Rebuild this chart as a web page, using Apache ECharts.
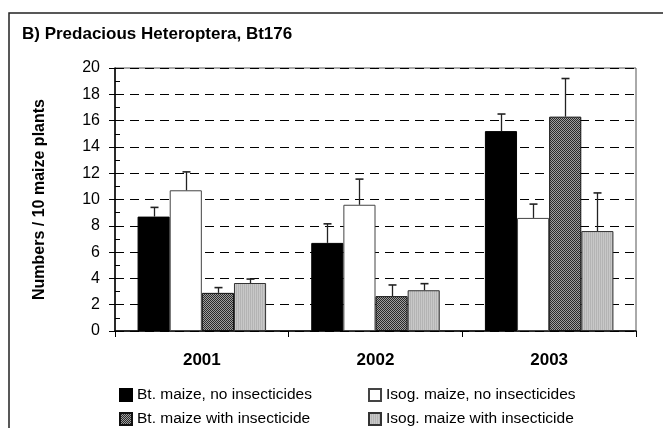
<!DOCTYPE html>
<html>
<head>
<meta charset="utf-8">
<script src="https://cdn.jsdelivr.net/npm/echarts@6/dist/echarts.min.js"></script>
<style>
  html, body { margin: 0; padding: 0; background: #fff; }
</style>
</head>
<body>
<div id="main" style="width: 663px; height: 428px"></div>
<script>
var years = ["2001", "2002", "2003"];
var seriesNames = [
  "Bt. maize, no insecticides",
  "Isog. maize, no insecticides",
  "Bt. maize with insecticide",
  "Isog. maize with insecticide"
];
var btNoIns = [8.7, 6.7, 15.2];
var isogNoIns = [10.7, 9.6, 8.6];
var btIns = [2.9, 2.65, 16.3];
var isogIns = [3.65, 3.1, 7.6];
// upper error (SE) for each bar
var btNoInsErr = [0.7, 1.45, 1.3];
var isogNoInsErr = [1.4, 1.95, 1.05];
var btInsErr = [0.4, 0.85, 2.9];
var isogInsErr = [0.3, 0.5, 2.9];

var font = "Arial, 'Liberation Sans', sans-serif";
var catGap = 0.26;

function pattern(w, h, draw) {
  var c = document.createElement("canvas");
  c.width = w;
  c.height = h;
  draw(c.getContext("2d"));
  return { image: c, repeat: "repeat" };
}
// checkered dark fill
var darkFill = pattern(2, 2, function (g) {
  g.fillStyle = "#a0a0a0";
  g.fillRect(0, 0, 2, 2);
  g.fillStyle = "#2a2a2a";
  g.fillRect(0, 0, 1, 1);
  g.fillRect(1, 1, 1, 1);
});
// fine light gray fill
var grayFill = pattern(2, 1, function (g) {
  g.fillStyle = "#c8c8c8";
  g.fillRect(0, 0, 2, 1);
  g.fillStyle = "#b4b4b4";
  g.fillRect(0, 0, 1, 1);
});

var chartDom = document.getElementById("main");
var myChart = echarts.init(chartDom, null, { renderer: "canvas" });

var values = [btNoIns, isogNoIns, btIns, isogIns];
var errs = [btNoInsErr, isogNoInsErr, btInsErr, isogInsErr];
var fills = ["#000000", "#ffffff", darkFill, grayFill];
var borders = ["#000000", "#444444", "#111111", "#333333"];

var series = [];
values.forEach(function (v, i) {
  series.push({
    name: seriesNames[i],
    type: "bar",
    data: v,
    barGap: "0%",
    barCategoryGap: catGap * 100 + "%",
    itemStyle: { color: fills[i], borderColor: borders[i], borderWidth: 1 },
    z: 2
  });
});

// error bars (upper only), one custom series per bar series
values.forEach(function (v, i) {
  var data = v.map(function (val, k) { return [k, val, val + errs[i][k]]; });
  series.push({
    type: "custom",
    data: data,
    z: 3,
    silent: true,
    renderItem: function (params, api) {
      var base = api.coord([api.value(0), api.value(1)]);
      var top = api.coord([api.value(0), api.value(2)]);
      var band = api.size([1, 0])[0];
      var bw = band * (1 - catGap) / 4;
      var x = Math.round(base[0] + (i - 1.5) * bw) + 0.5;
      var cap = 4;
      return {
        type: "group",
        children: [
          { type: "line", shape: { x1: x, y1: base[1], x2: x, y2: top[1] },
            style: { stroke: "#222", lineWidth: 1.3 } },
          { type: "line", shape: { x1: x - cap, y1: top[1], x2: x + cap, y2: top[1] },
            style: { stroke: "#222", lineWidth: 1.6 } }
        ]
      };
    }
  });
});

var legendPos = [
  { left: 114, top: 382 },
  { left: 363, top: 382 },
  { left: 114, top: 406 },
  { left: 363, top: 406 }
];
var legends = seriesNames.map(function (n, i) {
  return {
    data: [n],
    left: legendPos[i].left,
    top: legendPos[i].top,
    itemWidth: 12,
    itemHeight: 12,
    itemGap: 0,
    icon: "rect",
    selectedMode: false,
    textStyle: { fontFamily: font, fontSize: 15.5, color: "#000" }
  };
});

var option = {
  animation: false,
  textStyle: { fontFamily: font },
  title: {
    text: "B) Predacious Heteroptera, Bt176",
    left: 17,
    top: 21,
    textStyle: { fontFamily: font, fontSize: 17, fontWeight: "bold", color: "#000" }
  },
  legend: legends,
  grid: { left: 115, right: 27, top: 68, bottom: 97, show: true, borderColor: "#555", borderWidth: 1 },
  xAxis: {
    type: "category",
    data: years,
    axisLine: { lineStyle: { color: "#000", width: 1.5 } },
    axisTick: { show: true, length: 6, lineStyle: { color: "#000" } },
    axisLabel: { fontFamily: font, fontSize: 17, fontWeight: "bold", color: "#000", margin: 21 }
  },
  yAxis: [
    {
      type: "value",
      min: 0,
      max: 20,
      interval: 2,
      name: "Numbers / 10 maize plants",
      nameLocation: "middle",
      nameGap: 67,
      nameTextStyle: { fontFamily: font, fontSize: 16, fontWeight: "bold", color: "#000" },
      axisLine: { show: true, lineStyle: { color: "#000", width: 1.5 } },
      axisTick: { show: true, inside: true, length: 5, lineStyle: { color: "#000" } },
      minorTick: { show: true, splitNumber: 2, length: 5, lineStyle: { color: "#000" } },
      axisLabel: { fontFamily: font, fontSize: 16, color: "#000", margin: 15 },
      splitLine: { show: true, lineStyle: { color: "#000", type: [9, 6], width: 1 } }
    },
    {
      type: "value",
      min: 0,
      max: 20,
      interval: 2,
      position: "left",
      axisLine: { show: false },
      axisTick: { show: true, length: 6, lineStyle: { color: "#000" } },
      axisLabel: { show: false },
      splitLine: { show: false }
    }
  ],
  graphic: [
    {
      type: "rect",
      shape: { x: 9, y: 13, width: 700, height: 500 },
      style: { fill: null, stroke: "#222", lineWidth: 1.5 },
      silent: true
    }
  ],
  series: series
};

option && myChart.setOption(option);
</script>
</body>
</html>
